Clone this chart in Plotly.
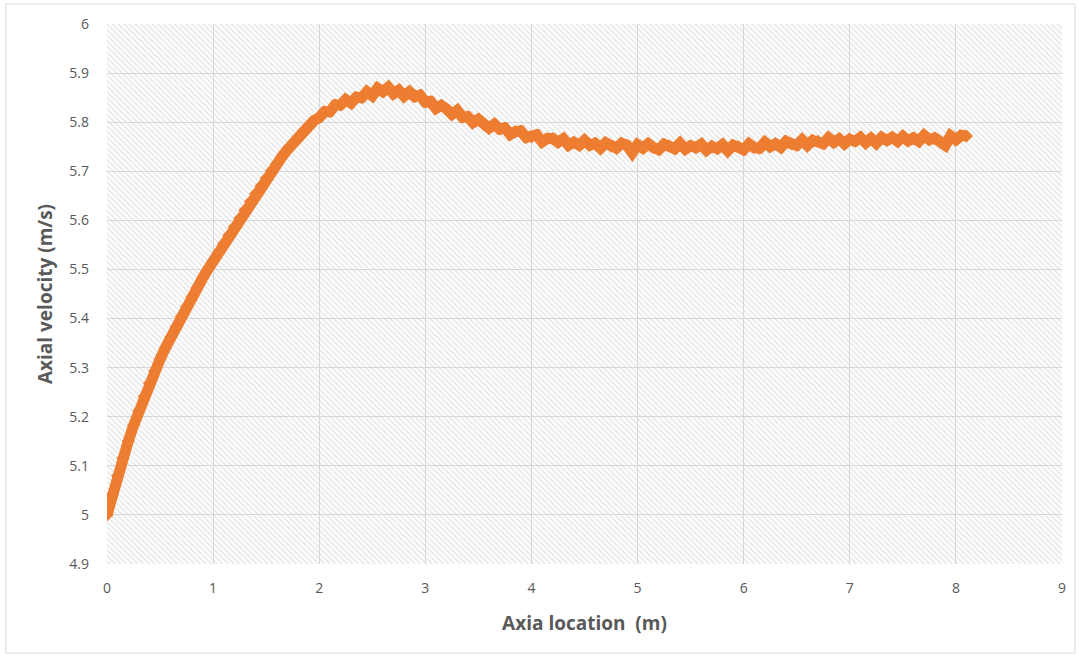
import plotly.graph_objects as go

# Axial position along the pipe (m)
axial_location = [
    0.00, 0.05, 0.10, 0.15, 0.20, 0.25, 0.30, 0.35, 0.40, 0.45,
    0.50, 0.55, 0.60, 0.65, 0.70, 0.75, 0.80, 0.85, 0.90, 0.95,
    1.00, 1.05, 1.10, 1.15, 1.20, 1.25, 1.30, 1.35, 1.40, 1.45,
    1.50, 1.55, 1.60, 1.65, 1.70, 1.75, 1.80, 1.85, 1.90, 1.95,
    2.00, 2.05, 2.10, 2.15, 2.20, 2.25, 2.30, 2.35, 2.40, 2.45,
    2.50, 2.55, 2.60, 2.65, 2.70, 2.75, 2.80, 2.85, 2.90, 2.95,
    3.00, 3.05, 3.10, 3.15, 3.20, 3.25, 3.30, 3.35, 3.40, 3.45,
    3.50, 3.55, 3.60, 3.65, 3.70, 3.75, 3.80, 3.85, 3.90, 3.95,
    4.00, 4.05, 4.10, 4.15, 4.20, 4.25, 4.30, 4.35, 4.40, 4.45,
    4.50, 4.55, 4.60, 4.65, 4.70, 4.75, 4.80, 4.85, 4.90, 4.95,
    5.00, 5.05, 5.10, 5.15, 5.20, 5.25, 5.30, 5.35, 5.40, 5.45,
    5.50, 5.55, 5.60, 5.65, 5.70, 5.75, 5.80, 5.85, 5.90, 5.95,
    6.00, 6.05, 6.10, 6.15, 6.20, 6.25, 6.30, 6.35, 6.40, 6.45,
    6.50, 6.55, 6.60, 6.65, 6.70, 6.75, 6.80, 6.85, 6.90, 6.95,
    7.00, 7.05, 7.10, 7.15, 7.20, 7.25, 7.30, 7.35, 7.40, 7.45,
    7.50, 7.55, 7.60, 7.65, 7.70, 7.75, 7.80, 7.85, 7.90, 7.95,
    8.00, 8.05, 8.10,
]

# Axial velocity at each location (m/s)
axial_velocity = [
    5.000, 5.042, 5.080, 5.116, 5.150, 5.182, 5.212, 5.241, 5.268, 5.293,
    5.317, 5.340, 5.362, 5.383, 5.404, 5.424, 5.444, 5.463, 5.482, 5.500,
    5.517, 5.535, 5.553, 5.570, 5.587, 5.604, 5.621, 5.638, 5.654, 5.670,
    5.686, 5.701, 5.716, 5.730, 5.744, 5.757, 5.770, 5.782, 5.793, 5.803,
    5.809, 5.821, 5.821, 5.835, 5.835, 5.846, 5.839, 5.851, 5.850, 5.862,
    5.854, 5.869, 5.862, 5.871, 5.858, 5.865, 5.853, 5.862, 5.852, 5.855,
    5.841, 5.842, 5.828, 5.834, 5.827, 5.816, 5.824, 5.810, 5.811, 5.799,
    5.806, 5.795, 5.788, 5.796, 5.786, 5.788, 5.775, 5.781, 5.782, 5.769,
    5.770, 5.774, 5.760, 5.767, 5.767, 5.759, 5.766, 5.753, 5.759, 5.753,
    5.763, 5.753, 5.757, 5.747, 5.758, 5.751, 5.747, 5.757, 5.753, 5.738,
    5.754, 5.747, 5.756, 5.748, 5.744, 5.755, 5.751, 5.746, 5.757, 5.745,
    5.752, 5.748, 5.755, 5.743, 5.751, 5.746, 5.754, 5.742, 5.753, 5.750,
    5.744, 5.756, 5.748, 5.747, 5.759, 5.750, 5.756, 5.749, 5.761, 5.756,
    5.753, 5.764, 5.753, 5.763, 5.761, 5.756, 5.768, 5.759, 5.766, 5.756,
    5.765, 5.761, 5.769, 5.758, 5.767, 5.757, 5.769, 5.763, 5.769, 5.761,
    5.771, 5.762, 5.768, 5.761, 5.773, 5.764, 5.768, 5.761, 5.753, 5.772,
    5.764, 5.773, 5.772,
]

X_RANGE = [0, 9]
Y_RANGE = [4.9, 6.0]

ORANGE = "#ED7D31"
TEXT_GREY = "#595959"
GRID_GREY = "#d9d9d9"
FONT = "Open Sans, Lato, sans-serif"

fig = go.Figure()

# Hatched plot-area background (transparent gaps let the gridlines show through)
fig.add_trace(go.Scatter(
    x=[X_RANGE[0], X_RANGE[1], X_RANGE[1], X_RANGE[0], X_RANGE[0]],
    y=[Y_RANGE[0], Y_RANGE[0], Y_RANGE[1], Y_RANGE[1], Y_RANGE[0]],
    mode="none",
    fill="toself",
    fillcolor="rgba(0,0,0,0)",
    fillpattern=dict(shape="\\", fgcolor="#cfcfcf", bgcolor="rgba(0,0,0,0)",
                     size=4, solidity=0.4),
    hoverinfo="skip",
    showlegend=False,
))

# Velocity profile: dense diamond markers joined into a solid band
fig.add_trace(go.Scatter(
    x=axial_location,
    y=axial_velocity,
    mode="lines+markers",
    line=dict(color=ORANGE, width=11),
    marker=dict(symbol="diamond", size=10, color=ORANGE,
                line=dict(width=0)),
    showlegend=False,
    name="Axial velocity",
))

fig.update_layout(
    width=1079,
    height=657,
    margin=dict(l=107, r=17, t=24, b=93),
    paper_bgcolor="white",
    plot_bgcolor="white",
    font=dict(family=FONT, color=TEXT_GREY, size=14),
    shapes=[
        # light chart-area frame
        dict(type="rect", xref="paper", yref="paper",
             x0=-0.106, x1=1.0135, y0=-0.165, y1=1.037,
             line=dict(color="#d9d9d9", width=1), layer="below"),
    ],
)

fig.update_xaxes(
    range=X_RANGE,
    dtick=1,
    showgrid=True,
    gridcolor=GRID_GREY,
    gridwidth=1,
    zeroline=False,
    showline=False,
    ticks="",
    ticklabelstandoff=14,
    tickfont=dict(size=14, color=TEXT_GREY),
    title=dict(text="Axia location\u00a0\u00a0(m)",
               font=dict(size=19, color=TEXT_GREY, family=FONT, weight="bold"),
               standoff=20),
)

fig.update_yaxes(
    range=Y_RANGE,
    dtick=0.1,
    showgrid=True,
    gridcolor=GRID_GREY,
    gridwidth=1,
    zeroline=False,
    showline=False,
    ticks="",
    ticklabelstandoff=17,
    tickfont=dict(size=14, color=TEXT_GREY),
    title=dict(text="Axial velocity (m/s)",
               font=dict(size=19, color=TEXT_GREY, family=FONT, weight="bold"),
               standoff=11),
)

fig.write_html("out.html")
